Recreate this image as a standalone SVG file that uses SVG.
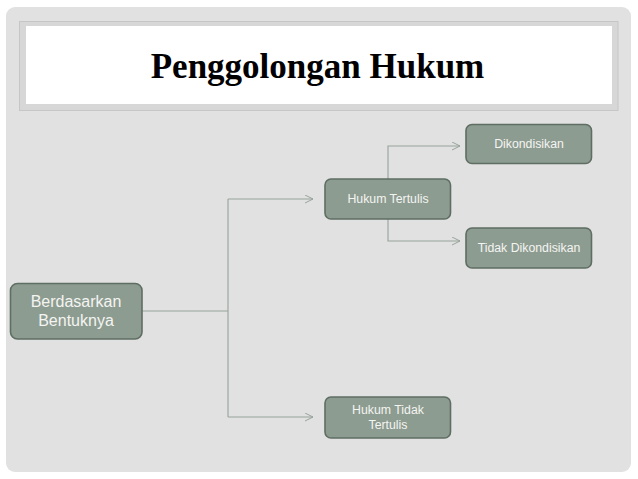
<svg xmlns="http://www.w3.org/2000/svg" width="638" height="479" viewBox="0 0 638 479">
<defs>
<style>
.node rect{fill:#8d9c90;stroke:#5f6e63;stroke-width:1.6}
.node text{font-family:"Liberation Sans",Arial,sans-serif;fill:#f4f4f2;text-anchor:middle}
.t12{font-size:12.3px}
.t16{font-size:16px}
.conn path{fill:none;stroke:#97a39a;stroke-width:1.1}
</style>
<marker id="arr" markerWidth="10" markerHeight="10" refX="8" refY="4" orient="auto" markerUnits="userSpaceOnUse">
<path d="M0,0 L8,4 L0,8" fill="none" stroke="#97a39a" stroke-width="1"/>
</marker>
</defs>
<rect width="638" height="479" fill="#ffffff"/>
<rect x="6" y="7" width="625" height="465" rx="9" fill="#e1e1e1"/>
<g id="title">
<rect x="19.5" y="21.5" width="598.5" height="89" fill="#d7d7d7" stroke="#c6c6c6" stroke-width="1"/>
<rect x="26" y="26" width="586" height="78" fill="#ffffff"/>
<text x="317.5" y="78" font-family="'Liberation Serif','Times New Roman',serif" font-weight="bold" font-size="35" text-anchor="middle" fill="#000">Penggolongan Hukum</text>
</g>
<g class="conn" id="connectors">
<path d="M142,311 H228"/>
<path d="M228,199 V417"/>
<path d="M228,199 H313" marker-end="url(#arr)"/>
<path d="M228,417 H313" marker-end="url(#arr)"/>
<path d="M388,179 V146 H460" marker-end="url(#arr)"/>
<path d="M388,219 V241 H460" marker-end="url(#arr)"/>
</g>
<g class="node" id="n-berdasarkan">
<rect x="10.5" y="283.5" width="131.5" height="55.5" rx="7"/>
<text class="t16" x="76" y="307">Berdasarkan</text>
<text class="t16" x="76" y="326">Bentuknya</text>
</g>
<g class="node" id="n-tertulis">
<rect x="325" y="179" width="125.5" height="40" rx="6"/>
<text class="t12" x="388" y="203">Hukum Tertulis</text>
</g>
<g class="node" id="n-dikondisikan">
<rect x="466" y="124.5" width="125.5" height="39" rx="6"/>
<text class="t12" x="529" y="148">Dikondisikan</text>
</g>
<g class="node" id="n-tidakdikondisikan">
<rect x="466" y="228" width="125.5" height="40" rx="6"/>
<text class="t12" x="529" y="252">Tidak Dikondisikan</text>
</g>
<g class="node" id="n-tidaktertulis">
<rect x="325" y="397" width="125.5" height="41" rx="6"/>
<text class="t12" x="388" y="414">Hukum Tidak</text>
<text class="t12" x="388" y="429">Tertulis</text>
</g>
</svg>
